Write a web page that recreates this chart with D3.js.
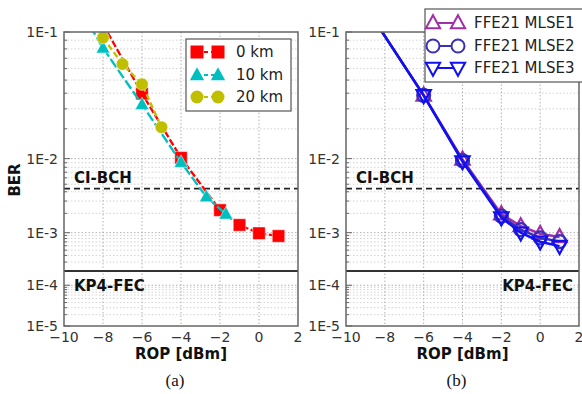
<!DOCTYPE html>
<html>
<head>
<meta charset="utf-8">
<script src="https://cdn.jsdelivr.net/npm/d3@7"></script>
<style>
  body { margin: 0; background: #fff; }
  svg { display: block; font-family: "DejaVu Sans", sans-serif; }
</style>
</head>
<body>
<svg id="chart"></svg>
<script>
let width = 582, height = 394;

// Data
let xTicks = [-10, -8, -6, -4, -2, 0, 2];
let yTickLabels = ["1E-1", "1E-2", "1E-3", "1E-4", "1E-5"];
let yTickValues = [1e-1, 1e-2, 1e-3, 1e-4, 1e-5];

let km0X = [-8, -6, -4, -2, -1, 0, 1];
let km0Y = [0.11, 0.0397, 0.0102, 2.23e-3, 1.33e-3, 9.8e-4, 8.8e-4];
let km10X = [-9, -8, -6, -4, -2.7, -1.7];
let km10Y = [0.123, 0.081, 0.0325, 0.0091, 3.43e-3, 1.95e-3];
let km20X = [-8, -7, -6, -5];
let km20Y = [0.093, 0.0643, 0.0467, 0.0207];

let mlseX = [-9, -6, -4, -2, -1, 0, 1];
let mlse1Y = [0.135, 0.0385, 0.0098, 1.95e-3, 1.28e-3, 9.6e-4, 8.5e-4];
let mlse2Y = [0.135, 0.0385, 0.0095, 1.82e-3, 1.12e-3, 8.2e-4, 7.1e-4];
let mlse3Y = [0.135, 0.0385, 0.0093, 1.73e-3, 1.0e-3, 7.05e-4, 5.9e-4];

let ciBch = 4.4e-3;
let kp4 = 2.0e-4;

let svg = d3.select("#chart")
  .attr("width", width)
  .attr("height", height)
  .attr("viewBox", [0, 0, width, height]);

// BER axis is linear in log10(-log10(BER))
let q = v => Math.log10(-Math.log10(v));

let panels = [
  {
    id: "a", left: 64, right: 298, caption: "(a)",
    series: [
      { name: "0 km", xs: km0X, ys: km0Y, color: "#ff0000", dash: "7,2.5", shape: "square", fill: true },
      { name: "10 km", xs: km10X, ys: km10Y, color: "#00bfbf", dash: "10,3", shape: "triangle", fill: true },
      { name: "20 km", xs: km20X, ys: km20Y, color: "#bfbf00", dash: "6,3", shape: "circle", fill: true }
    ],
    legend: { x: 186, y: 39, w: 105, h: 72, m1: 197, m2: 218, tx: 236, rows: [52, 75, 97] },
    kp4Anchor: "start"
  },
  {
    id: "b", left: 346, right: 579, caption: "(b)",
    series: [
      { name: "FFE21 MLSE1", xs: mlseX, ys: mlse1Y, color: "#a030a8", dash: null, shape: "triangle", fill: false },
      { name: "FFE21 MLSE2", xs: mlseX, ys: mlse2Y, color: "#3a2fb8", dash: null, shape: "circle", fill: false },
      { name: "FFE21 MLSE3", xs: mlseX, ys: mlse3Y, color: "#1010f0", dash: null, shape: "triangleDown", fill: false }
    ],
    legend: { x: 425, y: 9, w: 160, h: 73, m1: 433, m2: 458, tx: 474, rows: [23, 46, 68] },
    kp4Anchor: "end"
  }
];

let plotTop = 32, plotBottom = 326;

let yScale = d3.scaleLinear()
  .domain([q(1e-1), q(1e-5)])
  .range([plotTop, plotBottom]);

function markerPath(shape, size) {
  let s = size;
  if (shape === "square") return `M${-s/2},${-s/2}h${s}v${s}h${-s}Z`;
  if (shape === "triangle") return `M0,${-s*0.6}L${s*0.55},${s*0.4}L${-s*0.55},${s*0.4}Z`;
  if (shape === "triangleDown") return `M0,${s*0.6}L${s*0.55},${-s*0.4}L${-s*0.55},${-s*0.4}Z`;
  let r = s / 2;
  return `M${r},0A${r},${r} 0 1,1 ${-r},0A${r},${r} 0 1,1 ${r},0Z`;
}

panels.forEach(p => {
  let xScale = d3.scaleLinear().domain([-10, 2]).range([p.left, p.right]);
  let g = svg.append("g");

  g.append("clipPath").attr("id", "clip-" + p.id)
    .append("rect")
    .attr("x", p.left).attr("y", plotTop)
    .attr("width", p.right - p.left).attr("height", plotBottom - plotTop);

  // Minor horizontal grid
  let minor = [];
  for (let k = 2; k <= 5; k++) {
    for (let m = 2; m <= 9; m++) minor.push(m * Math.pow(10, -k));
  }
  g.append("g").selectAll("line")
    .data(minor)
    .join("line")
    .attr("x1", p.left).attr("x2", p.right)
    .attr("y1", d => yScale(q(d))).attr("y2", d => yScale(q(d)))
    .attr("stroke", "#c8c8c8")
    .attr("stroke-width", 0.8)
    .attr("stroke-dasharray", "1.5,2");

  // Major grid
  g.append("g").selectAll("line")
    .data(yTickValues.slice(1, -1))
    .join("line")
    .attr("x1", p.left).attr("x2", p.right)
    .attr("y1", d => yScale(q(d))).attr("y2", d => yScale(q(d)))
    .attr("stroke", "#b0b0b0")
    .attr("stroke-dasharray", "1.5,2");

  g.append("g").selectAll("line")
    .data(xTicks.slice(1, -1))
    .join("line")
    .attr("x1", d => xScale(d)).attr("x2", d => xScale(d))
    .attr("y1", plotTop).attr("y2", plotBottom)
    .attr("stroke", "#b0b0b0")
    .attr("stroke-dasharray", "1.5,2");

  // Ticks (inward)
  g.append("g").selectAll("line")
    .data(minor)
    .join("line")
    .attr("x1", p.left).attr("x2", p.left + 3)
    .attr("y1", d => yScale(q(d))).attr("y2", d => yScale(q(d)))
    .attr("stroke", "#666");
  g.append("g").selectAll("line")
    .data(yTickValues)
    .join("line")
    .attr("x1", p.left).attr("x2", p.left + 6)
    .attr("y1", d => yScale(q(d))).attr("y2", d => yScale(q(d)))
    .attr("stroke", "#666");

  // Threshold lines
  g.append("line")
    .attr("x1", p.left).attr("x2", p.right)
    .attr("y1", yScale(q(ciBch))).attr("y2", yScale(q(ciBch)))
    .attr("stroke", "#222")
    .attr("stroke-width", 1.8)
    .attr("stroke-dasharray", "6,4");
  g.append("line")
    .attr("x1", p.left).attr("x2", p.right)
    .attr("y1", yScale(q(kp4))).attr("y2", yScale(q(kp4)))
    .attr("stroke", "#333")
    .attr("stroke-width", 2);

  g.append("text")
    .attr("x", p.left + 10)
    .attr("y", yScale(q(ciBch)) - 6)
    .attr("font-weight", "bold")
    .attr("font-size", 15)
    .attr("fill", "#111")
    .text("CI-BCH");
  g.append("text")
    .attr("x", p.kp4Anchor === "start" ? p.left + 10 : p.right - 6)
    .attr("y", yScale(q(kp4)) + 20)
    .attr("text-anchor", p.kp4Anchor)
    .attr("font-weight", "bold")
    .attr("font-size", 15)
    .attr("fill", "#111")
    .text("KP4-FEC");

  // Series
  let plot = g.append("g").attr("clip-path", `url(#clip-${p.id})`);
  p.series.forEach(s => {
    let pts = s.xs.map((x, i) => [x, s.ys[i]]);
    let line = d3.line().x(d => xScale(d[0])).y(d => yScale(q(d[1])));
    plot.append("path")
      .datum(pts)
      .attr("d", line)
      .attr("fill", "none")
      .attr("stroke", s.color)
      .attr("stroke-width", s.fill ? 2.3 : 2.5)
      .attr("stroke-dasharray", s.dash);
    plot.append("g").selectAll("path")
      .data(pts)
      .join("path")
      .attr("transform", d => `translate(${xScale(d[0])},${yScale(q(d[1]))})`)
      .attr("d", markerPath(s.shape, s.fill ? 12.5 : 13))
      .attr("fill", s.fill ? s.color : "none")
      .attr("stroke", s.fill ? "#fff" : s.color)
      .attr("stroke-opacity", s.fill ? 0.6 : 1)
      .attr("stroke-width", s.fill ? 0.8 : 2.2);
  });

  // Frame
  g.append("rect")
    .attr("x", p.left).attr("y", plotTop)
    .attr("width", p.right - p.left).attr("height", plotBottom - plotTop)
    .attr("fill", "none")
    .attr("stroke", "#666")
    .attr("stroke-width", 1.5);

  // Tick labels
  g.append("g").selectAll("text")
    .data(yTickValues)
    .join("text")
    .attr("x", p.left - 6)
    .attr("y", d => yScale(q(d)) + 5)
    .attr("text-anchor", "end")
    .attr("font-size", 14)
    .attr("fill", "#333")
    .text((d, i) => yTickLabels[i]);
  g.append("g").selectAll("text")
    .data(xTicks)
    .join("text")
    .attr("x", d => xScale(d))
    .attr("y", plotBottom + 16)
    .attr("text-anchor", "middle")
    .attr("font-size", 14)
    .attr("fill", "#333")
    .text(d => d < 0 ? "\u2212" + Math.abs(d) : d);

  // Axis titles
  g.append("text")
    .attr("x", (p.left + p.right) / 2)
    .attr("y", 359)
    .attr("text-anchor", "middle")
    .attr("font-weight", "bold")
    .attr("font-size", 15)
    .attr("fill", "#111")
    .text("ROP [dBm]");
  g.append("text")
    .attr("x", (p.left + p.right) / 2 - 6)
    .attr("y", 386)
    .attr("text-anchor", "middle")
    .attr("font-family", "Liberation Serif, serif")
    .attr("font-size", 17)
    .attr("fill", "#111")
    .text(p.caption);

  // Legend
  let L = p.legend;
  let lg = g.append("g");
  lg.append("rect")
    .attr("x", L.x).attr("y", L.y)
    .attr("width", L.w).attr("height", L.h)
    .attr("fill", "#fff")
    .attr("stroke", "#555")
    .attr("stroke-width", 1.2);
  p.series.forEach((s, i) => {
    let y = L.rows[i];
    lg.append("line")
      .attr("x1", L.m1).attr("x2", L.m2)
      .attr("y1", y).attr("y2", y)
      .attr("stroke", s.color)
      .attr("stroke-width", 2)
      .attr("stroke-dasharray", s.fill ? "4,3" : null);
    [L.m1, L.m2].forEach(mx => {
      lg.append("path")
        .attr("transform", `translate(${mx},${y})`)
        .attr("d", markerPath(s.shape, 13))
        .attr("fill", s.fill ? s.color : "#fff")
        .attr("stroke", s.fill ? "none" : s.color)
        .attr("stroke-width", 2);
    });
    lg.append("text")
      .attr("x", L.tx)
      .attr("y", y + 5)
      .attr("font-size", 15)
      .attr("fill", "#222")
      .text(s.name);
  });
});

// Shared y title
svg.append("text")
  .attr("transform", "rotate(-90)")
  .attr("x", -180)
  .attr("y", 20)
  .attr("text-anchor", "middle")
  .attr("font-weight", "bold")
  .attr("font-size", 15)
  .attr("fill", "#111")
  .text("BER");
</script>
</body>
</html>
